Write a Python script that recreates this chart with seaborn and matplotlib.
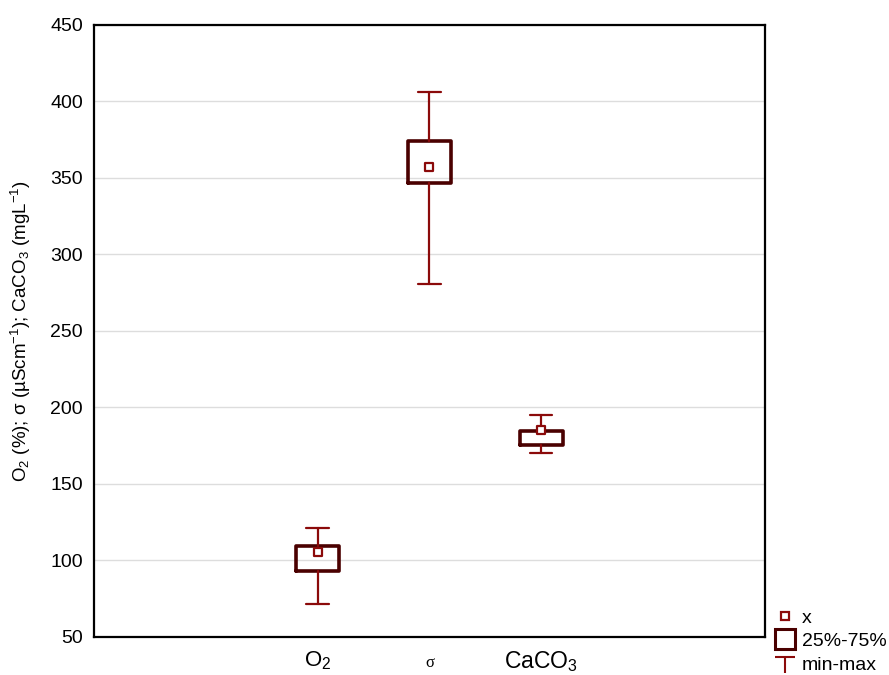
import numpy as np
import pandas as pd
import matplotlib
matplotlib.use("Agg")
import matplotlib.pyplot as plt
import seaborn as sns
from matplotlib.lines import Line2D
from matplotlib.path import Path

# summary values
params = ["O$_2$", "σ", "CaCO$_3$"]
mins = [71.5, 281, 170]
q1 = [93, 346.5, 175.5]
q3 = [109.5, 374, 184.5]
maxs = [121, 406, 195]
means = [105.5, 357.5, 185.5]

positions = [2, 3, 4]

sns.set_theme(style="white")
plt.rcParams['font.family'] = ['Liberation Sans', 'DejaVu Sans']
plt.rcParams['mathtext.fontset'] = 'custom'
plt.rcParams['mathtext.rm'] = 'Liberation Sans'
plt.rcParams['mathtext.it'] = 'Liberation Sans'
for k in ['text.color', 'axes.labelcolor', 'xtick.color', 'ytick.color']:
    plt.rcParams[k] = 'black'

dark = "#4a0000"
red = "#8b0a0a"

fig = plt.figure(figsize=(8.89, 6.75), dpi=100)
ax = fig.add_axes([0.1057, 0.0563, 0.7548, 0.9067])

stats = []
for i in range(len(params)):
    stats.append({"whislo": mins[i], "q1": q1[i], "med": means[i],
                  "q3": q3[i], "whishi": maxs[i], "label": params[i]})

ax.bxp(stats, positions=positions, widths=0.39, showfliers=False,
       boxprops=dict(color=dark, linewidth=2.6),
       whiskerprops=dict(color=red, linewidth=1.6),
       capprops=dict(color=red, linewidth=1.6),
       medianprops=dict(visible=False), capwidths=0.2, zorder=3)

df = pd.DataFrame({"pos": positions, "mean": means})
sns.scatterplot(data=df, x="pos", y="mean", marker="s", s=30,
                facecolor="white", edgecolor=red, linewidth=1.6,
                ax=ax, zorder=4)

ax.set_xlim(0, 6)
ax.set_ylim(50, 450)
ax.set_yticks(np.arange(50, 451, 50))
ax.set_xticks([1, 2, 3, 4, 5])
ax.set_xticklabels(["", params[0], "", params[2], ""])
for lab, size in zip(ax.get_xticklabels(), [13, 16, 11, 16.5, 13]):
    lab.set_fontsize(size)
# the sigma label is drawn in a serif face, a little smaller
ax.text(positions[1], -0.042, params[1], transform=ax.get_xaxis_transform(),
        ha="center", va="center", fontsize=12,
        family=['Liberation Serif', 'DejaVu Serif'])
ax.tick_params(axis="x", direction="in", length=4, width=1, pad=9)
ax.tick_params(axis="y", direction="in", length=3, width=1, labelsize=14, pad=8)
ax.yaxis.grid(True, color="#dddddd", linewidth=1)
ax.set_axisbelow(True)
ax.set_xlabel("")
ax.set_ylabel("O$_2$ (%); σ (µScm$^{-1}$); CaCO$_3$ (mgL$^{-1}$)",
              fontsize=13.5, labelpad=12)
for s in ax.spines.values():
    s.set_color("black")
    s.set_linewidth(1.6)

tee = Path([(-1, 0.6), (1, 0.6), (0, 0.6), (0, -1)],
           [Path.MOVETO, Path.LINETO, Path.MOVETO, Path.LINETO])
handles = [
    Line2D([], [], linestyle="none", marker="s", markersize=6,
           markerfacecolor="white", markeredgecolor=red, markeredgewidth=1.6),
    Line2D([], [], linestyle="none", marker="s", markersize=15,
           markerfacecolor="white", markeredgecolor=dark, markeredgewidth=2.2),
    Line2D([], [], linestyle="none", marker=tee, markersize=15,
           markerfacecolor="none", markeredgecolor=red, markeredgewidth=1.5),
]
fig.legend(handles, ["x", "25%-75%", "min-max"], loc="lower left",
           bbox_to_anchor=(0.852, -0.024), frameon=False, fontsize=14,
           handlelength=1.0, handletextpad=0.4, labelspacing=0.3)

fig.savefig("out.png", dpi=100)
